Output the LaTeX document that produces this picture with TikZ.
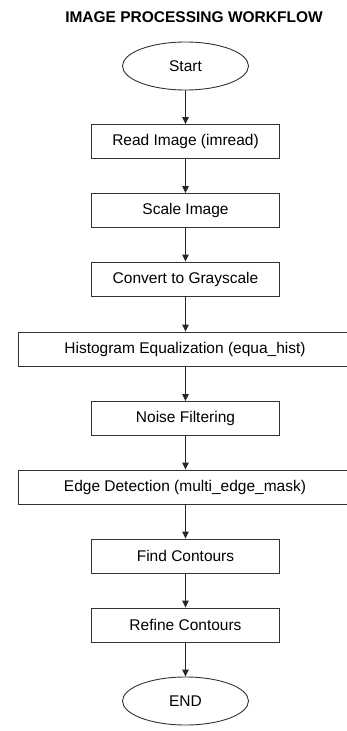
\documentclass[tikz,border=0pt]{standalone}
\usepackage{fontspec}
\setmainfont{Liberation Sans}
\usetikzlibrary{shapes.geometric,arrows.meta}
\begin{document}
\begin{tikzpicture}[x=1pt,y=-1pt,
  procbox/.style={draw=black!80, line width=0.9pt, minimum height=34pt, inner sep=0pt, font=\fontsize{15.5}{17}\selectfont},
  narrowbox/.style={procbox, minimum width=188pt},
  widebox/.style={procbox, minimum width=334pt},
  term/.style={draw=black!80, line width=0.9pt, ellipse, minimum width=126pt, minimum height=48pt, inner sep=0pt, font=\fontsize{15.5}{17}\selectfont},
  flow/.style={draw=black!85, line width=0.9pt, -{Triangle[length=7pt,width=6.5pt]}}]
\useasboundingbox (0,0) rectangle (347,731);
\node[font=\bfseries\fontsize{15.5}{17}\selectfont, anchor=base] (title) at (194,22) {IMAGE PROCESSING WORKFLOW};
\node[term] (start) at (185.5,66) {Start};
\node[narrowbox] (read) at (185.5,141.5) {Read Image (imread)};
\node[narrowbox] (scale) at (185.5,210.5) {Scale Image};
\node[narrowbox] (gray) at (185.5,279) {Convert to Grayscale};
\node[widebox] (hist) at (185,349) {Histogram Equalization (equa\_hist)};
\node[narrowbox] (noise) at (185.5,418.5) {Noise Filtering};
\node[widebox] (edge) at (185,487) {Edge Detection (multi\_edge\_mask)};
\node[narrowbox] (find) at (185.5,556) {Find Contours};
\node[narrowbox] (refine) at (185.5,625) {Refine Contours};
\node[term] (end) at (185.5,701) {END};
\draw[flow] (start) -- (read);
\draw[flow] (read) -- (scale);
\draw[flow] (scale) -- (gray);
\draw[flow] (gray) -- (gray|-hist.north);
\draw[flow] (gray|-hist.south) -- (noise);
\draw[flow] (noise) -- (noise|-edge.north);
\draw[flow] (noise|-edge.south) -- (find);
\draw[flow] (find) -- (refine);
\draw[flow] (refine) -- (end);
\end{tikzpicture}
\end{document}
